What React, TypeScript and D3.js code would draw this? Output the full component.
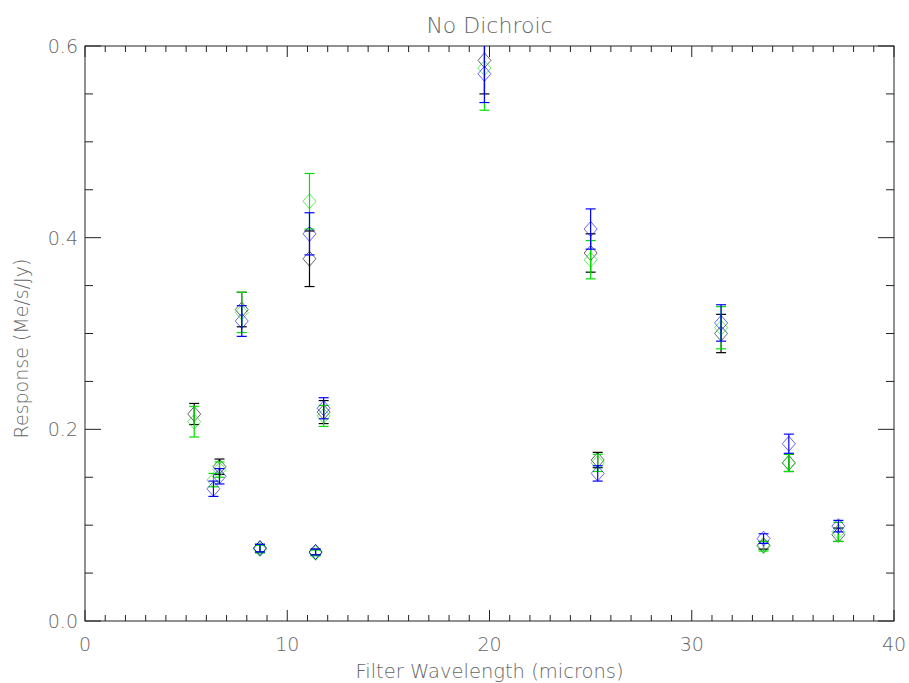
import React, { useEffect } from 'react';
import * as d3 from 'd3';

// wavelength (microns), response (Me/s/Jy) and 1-sigma error per series
const blackWl = [5.4, 6.65, 7.75, 8.65, 11.1, 11.4, 11.8, 19.75, 25.0, 25.35, 31.45, 33.55, 34.8, 37.25];
const blackVal = [0.216, 0.161, 0.325, 0.076, 0.378, 0.072, 0.218, 0.585, 0.384, 0.168, 0.300, 0.079, 0.165, 0.090];
const blackErr = [0.011, 0.008, 0.018, 0.004, 0.029, 0.003, 0.012, 0.035, 0.020, 0.008, 0.020, 0.004, 0.009, 0.007];

const greenWl = [5.4, 6.35, 6.65, 7.75, 8.65, 11.1, 11.4, 11.8, 19.75, 25.0, 25.35, 31.45, 33.55, 34.8, 37.25];
const greenVal = [0.208, 0.147, 0.158, 0.322, 0.075, 0.438, 0.071, 0.214, 0.577, 0.377, 0.165, 0.306, 0.078, 0.165, 0.093];
const greenErr = [0.016, 0.007, 0.008, 0.021, 0.004, 0.029, 0.003, 0.011, 0.044, 0.020, 0.009, 0.022, 0.005, 0.009, 0.010];

const blueWl = [6.35, 6.65, 7.75, 8.65, 11.1, 11.4, 11.8, 19.75, 25.0, 25.35, 31.45, 33.55, 34.8, 37.25];
const blueVal = [0.138, 0.151, 0.313, 0.076, 0.404, 0.072, 0.222, 0.571, 0.409, 0.154, 0.311, 0.086, 0.185, 0.099];
const blueErr = [0.008, 0.008, 0.016, 0.004, 0.022, 0.003, 0.011, 0.030, 0.021, 0.008, 0.019, 0.005, 0.010, 0.006];

const xTicks = [0, 10, 20, 30, 40];
const yTicks = [0.0, 0.2, 0.4, 0.6];

const series = [
  { wl: blackWl, val: blackVal, err: blackErr, color: '#000000' },
  { wl: greenWl, val: greenVal, err: greenErr, color: '#00e000' },
  { wl: blueWl, val: blueVal, err: blueErr, color: '#0000ff' },
];

const W = 909;
const H = 683;
const margin = { top: 46, right: 15, bottom: 62, left: 85 };
const font = '"DejaVu Sans", sans-serif';
const textColor = '#666';

export default function App() {
  useEffect(() => {
    document.body.style.margin = '0';
  }, []);

  const x = d3.scaleLinear().domain([0, 40]).range([margin.left, W - margin.right]);
  const y = d3.scaleLinear().domain([0, 0.6]).range([H - margin.bottom, margin.top]);
  const [x0, x1] = x.range();
  const [y0, y1] = y.range();

  const xMinor = d3.range(0, 40.001, 1);
  const yMinor = d3.range(0, 0.6001, 0.05);
  const isMajorX = (v: number) => Math.abs(v % 10) < 1e-6;
  const isMajorY = (v: number) => Math.abs(v / 0.2 - Math.round(v / 0.2)) < 1e-6;

  return (
    <svg width={W} height={H} style={{ display: 'block', background: '#fff' }}>
      <defs>
        <clipPath id="plot">
          <rect x={x0} y={y1} width={x1 - x0} height={y0 - y1} />
        </clipPath>
      </defs>

      <text x={(x0 + x1) / 2} y={33} textAnchor="middle" fontFamily={font} fontWeight={200} fontSize={22} fill={textColor}>
        No Dichroic
      </text>

      {/* frame */}
      <rect x={x0} y={y1} width={x1 - x0} height={y0 - y1} fill="none" stroke="#222" strokeWidth={1} />

      {/* x ticks, bottom and top */}
      {xMinor.map((v) => {
        const len = isMajorX(v) ? 11 : 6;
        return (
          <g key={'xt' + v} stroke="#222" strokeWidth={1}>
            <line x1={x(v)} x2={x(v)} y1={y0} y2={y0 - len} />
            <line x1={x(v)} x2={x(v)} y1={y1} y2={y1 + len} />
          </g>
        );
      })}
      {/* y ticks, left and right */}
      {yMinor.map((v) => {
        const len = isMajorY(v) ? 16 : 8;
        return (
          <g key={'yt' + v} stroke="#222" strokeWidth={1}>
            <line x1={x0} x2={x0 + len} y1={y(v)} y2={y(v)} />
            <line x1={x1} x2={x1 - len} y1={y(v)} y2={y(v)} />
          </g>
        );
      })}

      {xTicks.map((v) => (
        <text key={'xl' + v} x={x(v)} y={y0 + 30} textAnchor="middle" fontFamily={font} fontWeight={200} fontSize={19} fill={textColor}>
          {v}
        </text>
      ))}
      {yTicks.map((v) => (
        <text key={'yl' + v} x={x0 - 7} y={y(v) + 7} textAnchor="end" fontFamily={font} fontWeight={200} fontSize={19} fill={textColor}>
          {d3.format('.1f')(v)}
        </text>
      ))}

      <text x={(x0 + x1) / 2} y={H - 5} textAnchor="middle" fontFamily={font} fontWeight={200} fontSize={19.5} fill={textColor}>
        Filter Wavelength (microns)
      </text>
      <text
        transform={`translate(28,${(y0 + y1) / 2 + 15}) rotate(-90)`}
        textAnchor="middle"
        fontFamily={font}
        fontWeight={200}
        fontSize={19}
        fill={textColor}
      >
        Response (Me/s/Jy)
      </text>

      <g clipPath="url(#plot)">
        {series.map((s, si) => (
          <g key={'s' + si} stroke={s.color} fill="none">
            {s.wl.map((w, i) => {
              const cx = x(w);
              const cy = y(s.val[i]);
              const top = y(s.val[i] + s.err[i]);
              const bot = y(s.val[i] - s.err[i]);
              return (
                <g key={i}>
                  <line x1={cx} x2={cx} y1={top} y2={bot} strokeWidth={1.2} />
                  <line x1={cx - 5} x2={cx + 5} y1={top} y2={top} strokeWidth={1.2} />
                  <line x1={cx - 5} x2={cx + 5} y1={bot} y2={bot} strokeWidth={1.2} />
                  <path
                    d={`M${cx},${cy - 7.5}L${cx + 6.5},${cy}L${cx},${cy + 7.5}L${cx - 6.5},${cy}Z`}
                    strokeWidth={1}
                    strokeOpacity={0.6}
                  />
                </g>
              );
            })}
          </g>
        ))}
      </g>
    </svg>
  );
}
